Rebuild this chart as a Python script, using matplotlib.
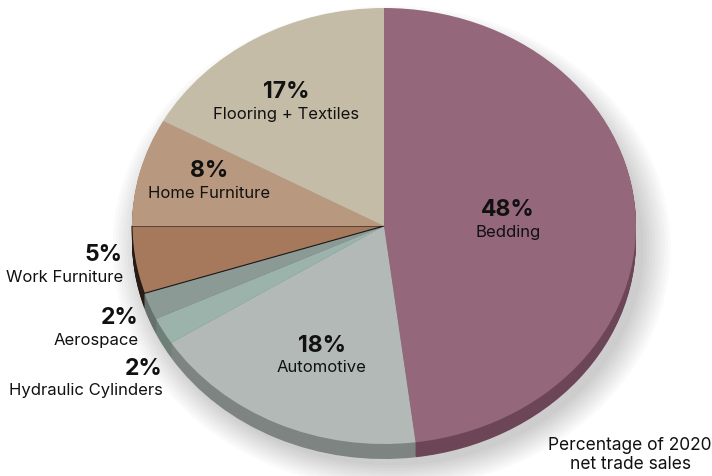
import matplotlib.pyplot as plt
from matplotlib.patches import Ellipse

# slices, clockwise from 12 o'clock
labels = ["Bedding", "Automotive", "Hydraulic Cylinders", "Aerospace",
          "Work Furniture", "Home Furniture", "Flooring + Textiles"]
shares = [48, 18, 2, 2, 5, 8, 17]
top_colors = ["#94677a", "#b2b9b6", "#9bb3aa", "#8c9a96",
              "#a6785c", "#b8997f", "#c5bca7"]
side_colors = ["#6c4657", "#7d8481", "#6f8079", "#66716d",
               "#2a1c14", "#8a7260", "#978e7a"]
note = "Percentage of 2020\nnet trade sales"

W, H = 712, 476
cx, cy = 384, 226      # pie centre in pixels
rx, ry = 252, 218      # ellipse radii in pixels
depth = 15 / ry

plt.rcParams['font.family'] = ['Inter', 'DejaVu Sans']

fig = plt.figure(figsize=(W / 100, H / 100), dpi=100)
ax = fig.add_axes([0, 0, 1, 1])

# soft shadow under the pie
for i in range(10):
    ax.add_patch(Ellipse((0.03, -depth - 0.03), 2 * (1.0 + 0.012 * i), 2 * (1.0 + 0.012 * i),
                         color="black", alpha=0.018, lw=0, zorder=0))

# side wall: stack of darker pies shifted down
steps = 16
for k in range(steps, 0, -1):
    ax.pie(shares, colors=side_colors, startangle=90, counterclock=False,
           center=(0, -depth * k / steps), radius=1,
           wedgeprops=dict(linewidth=0))

# top face
wedges, _ = ax.pie(shares, colors=top_colors, startangle=90, counterclock=False,
                   center=(0, 0), radius=1, wedgeprops=dict(linewidth=0))
wedges[4].set_edgecolor("#1a1a1a")
wedges[4].set_linewidth(0.8)

ax.set_aspect('auto')
ax.set_xlim(-cx / rx, (W - cx) / rx)
ax.set_ylim(-(H - cy) / ry, cy / ry)
ax.axis('off')


def label(x, y, pct, name, ha="center"):
    fig.text(x / W, 1 - y / H, f"{pct}%", ha=ha, va="center",
             fontsize=16.5, fontweight="bold", color="#111111")
    fig.text(x / W, 1 - (y + 22) / H, name, ha=ha, va="center",
             fontsize=12, color="#111111")


label(508, 210, shares[0], labels[0])
label(322, 346, shares[1], labels[1])
label(163, 369, shares[2], labels[2], ha="right")
label(139, 318, shares[3], labels[3], ha="right")
label(123, 255, shares[4], labels[4], ha="right")
label(209, 171, shares[5], labels[5])
label(286, 92, shares[6], labels[6])

fig.text(630 / W, 1 - 455 / H, note, ha="center", va="center",
         fontsize=12.5, color="#111111", linespacing=1.2)

fig.savefig("out.png", dpi=100)
